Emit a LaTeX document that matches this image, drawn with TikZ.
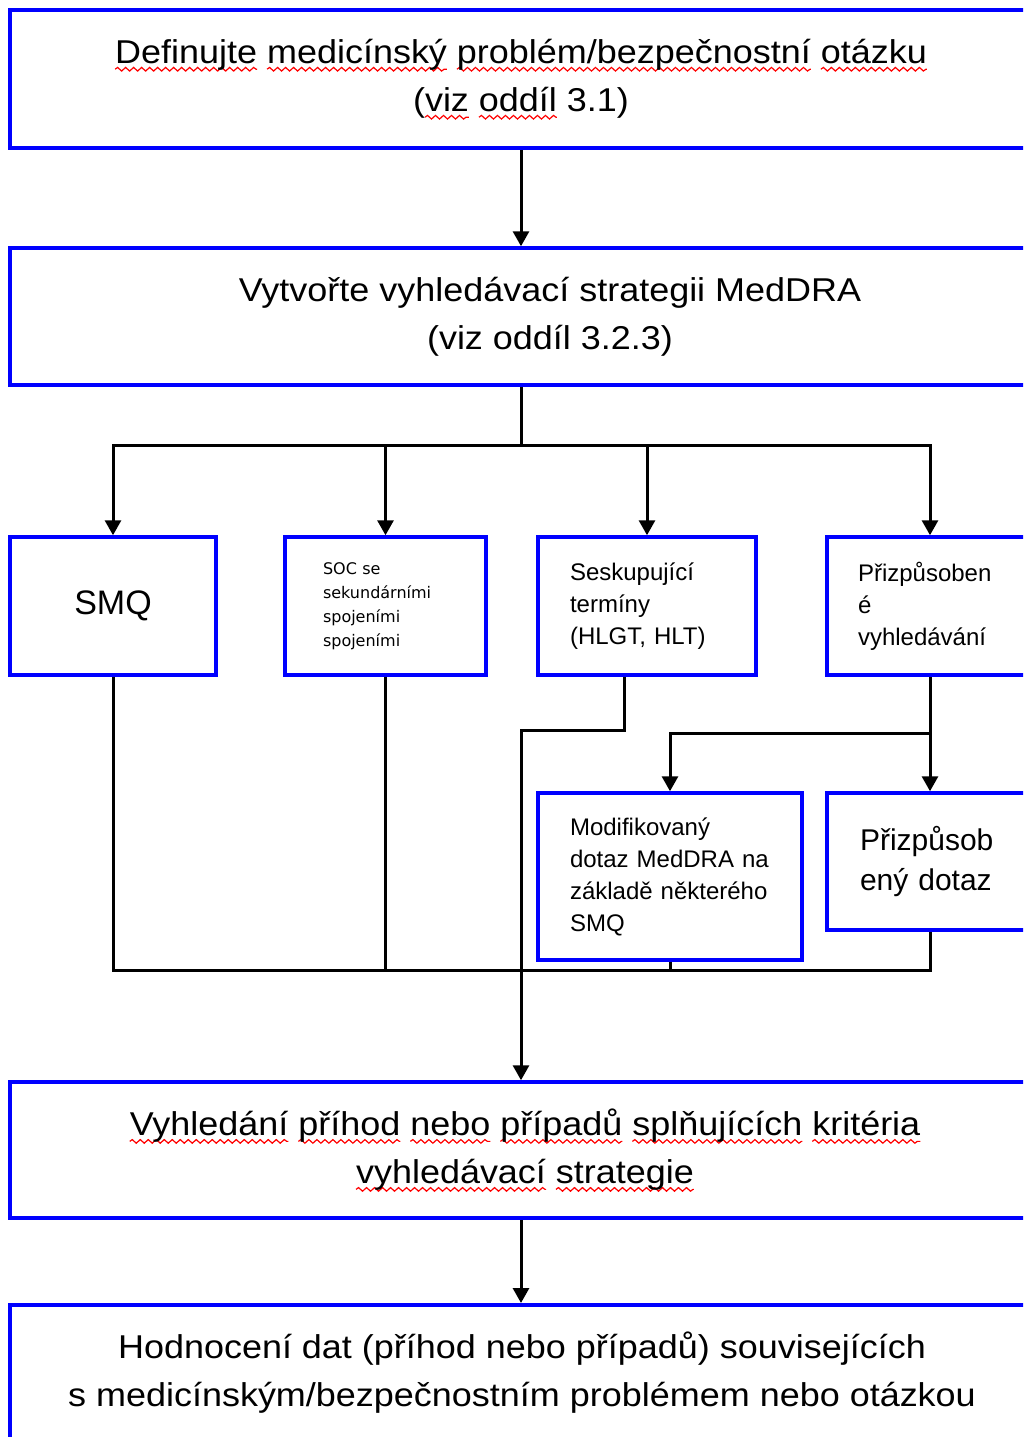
\documentclass[tikz,border=0pt]{standalone}
\usepackage{fontspec}
\setmainfont{Liberation Sans}
\newfontfamily\widefont{Liberation Sans}[FakeStretch=1.09]
\newfontfamily\socfont{DejaVu Sans}
\usetikzlibrary{arrows.meta,decorations.pathmorphing}
\newsavebox\wavebox
\newcommand\redwave[1]{\sbox\wavebox{#1}\tikz[overlay,baseline=0pt]\draw[red,line width=1.2pt,decorate,decoration={snake,amplitude=1.8pt,segment length=8pt}] (0pt,-5.5pt) -- (\wd\wavebox,-5.5pt);\usebox\wavebox}

\tikzset{
	box/.style={draw=blue, line width=3.5pt, inner sep=0pt, minimum height=138pt},
	bigbox/.style={box, align=center, font=\widefont\fontsize{33}{48}\selectfont},
	smallbox/.style={box, align=left, font=\fontsize{24}{32}\selectfont},
	link/.style={line width=3pt},
	arr/.style={link, -{Triangle[length=15pt,width=16pt]}},
}

\begin{document}
\begin{tikzpicture}[x=1pt,y=-1pt]
			%%%%% START %%%%%
			
			\useasboundingbox (0,0) rectangle (1023,1437);
			\clip (0,0) rectangle (1023,1437);
			
			\node[bigbox, minimum width=1022pt] (define) at (521,79) {\redwave{Definujte} \redwave{medicínský} \redwave{problém/bezpečnostní} \redwave{otázku}\\(\redwave{viz} \redwave{oddíl} 3.1)};
			\node[bigbox, minimum width=1080pt, minimum height=137pt] (strategy) at (550,316.5) {Vytvořte vyhledávací strategii MedDRA\\(viz oddíl 3.2.3)};
			
			\node[box, minimum width=206pt, font=\fontsize{34}{40}\selectfont] (smq) at (113,606) {SMQ};
			\node[box, minimum width=201pt, text width=125pt, align=left, font=\socfont\fontsize{16}{24}\selectfont] (soc) at (385.5,606) {SOC se\\sekundárními\\spojeními\\spojeními};
			\node[smallbox, minimum width=218pt, text width=154pt] (group) at (647,606) {Seskupující\\termíny\\(HLGT, HLT)};
			\node[smallbox, minimum width=206pt, text width=144pt] (custom) at (930,606) {Přizpůsoben\\é\\vyhledávání};
			
			\node[smallbox, minimum width=264pt, minimum height=167pt, text width=200pt] (modified) at (670,876.5) {Modifikovaný\\dotaz MedDRA na\\základě některého\\SMQ};
			\node[smallbox, minimum width=206pt, minimum height=137pt, text width=140pt, font=\fontsize{30}{40}\selectfont] (customq) at (930,861.5) {Přizpůsob\\ený dotaz};
			
			\node[bigbox, minimum width=1030pt, minimum height=136pt] (search) at (525,1150) {\redwave{Vyhledání} \redwave{příhod} \redwave{nebo} \redwave{případů} \redwave{splňujících} \redwave{kritéria}\\\redwave{vyhledávací} \redwave{strategie}};
			\node[bigbox, minimum width=1024pt, minimum height=136pt, anchor=north] (assess) at (522,1303) {Hodnocení dat (příhod nebo případů) souvisejících\\s medicínským/bezpečnostním problémem nebo otázkou};
			
			\coordinate (split) at (521,445);
			\coordinate (jog) at (521,730);
			\coordinate (fork) at (930,733);
			\coordinate (bus) at (521,970);
			
			\draw[arr] (define.south) -- (define.south |- strategy.north);
			\draw[link] (define.south |- strategy.south) -- (split);
			\foreach \n in {smq,soc,group,custom}
				\draw[arr] (split) -| (\n.north);
			
			\draw[link] (smq.south) |- (bus -| customq.south) -- (customq.south);
			\draw[link] (soc.south) -- (soc.south |- bus);
			\draw[link] (modified.south) -- (modified.south |- bus);
			
			\draw[arr] ([xshift=-23pt]group.south) |- (jog) -- (jog |- search.north);
			\draw[link] (custom.south) -- (fork);
			\draw[arr] (fork) -| (modified.north);
			\draw[arr] (fork) -- (customq.north);
			
			\draw[arr] (jog |- search.south) -- (jog |- assess.north);
			
			%%%%% END %%%%%
\end{tikzpicture}
\end{document}
